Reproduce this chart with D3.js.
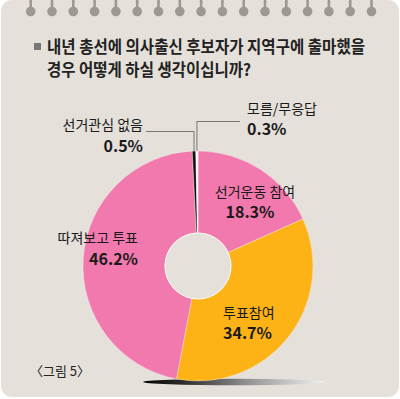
<!DOCTYPE html>
<html>
<head>
<meta charset="utf-8">
<script src="https://cdn.jsdelivr.net/npm/d3@7"></script>
<style>
  html, body { margin: 0; padding: 0; background: #fff; }
  svg { display: block; font-family: "Noto Sans CJK KR", "Noto Sans", sans-serif; }
</style>
</head>
<body>
<svg id="chart" width="400" height="399"></svg>
<script>
// survey answers, clockwise from 12 o'clock
var categories = ["선거운동 참여", "투표참여", "따져보고 투표", "선거관심 없음", "모름/무응답"];
var values = [18.3, 34.7, 46.2, 0.5, 0.3];
var valueLabels = ["18.3%", "34.7%", "46.2%", "0.5%", "0.3%"];
var titleLines = ["내년 총선에 의사출신 후보자가 지역구에 출마했을", "경우 어떻게 하실 생각이십니까?"];
var caption = "〈그림 5〉";

var colors = ["#f279ad", "#fdb316", "#f279ad", "#111111", "#ffffff"];

var svg = d3.select("#chart"),
    W = 400, H = 399,
    cx = 198, cy = 266,
    rOuter = 115, rInner = 33;

// card
svg.append("rect")
    .attr("x", 1).attr("y", 0)
    .attr("width", W - 2).attr("height", H - 2)
    .attr("rx", 11)
    .attr("fill", "#e5e0da");

// spiral binding pins
var pinX = d3.range(17).map(i => 30.7 + i * 21.3);
var pins = svg.append("g").attr("fill", "#9c9993").attr("stroke", "#9c9993");
pins.selectAll("line").data(pinX).enter().append("line")
    .attr("x1", d => d).attr("x2", d => d)
    .attr("y1", 0).attr("y2", 10)
    .attr("stroke-width", 2.6);
pins.selectAll("circle").data(pinX).enter().append("circle")
    .attr("cx", d => d).attr("cy", 11.5).attr("r", 4.8)
    .attr("stroke", "none");

// title
svg.append("rect")
    .attr("x", 34).attr("y", 43).attr("width", 7).attr("height", 7)
    .attr("fill", "#777");
svg.selectAll(".title").data(titleLines).enter().append("text")
    .attr("class", "title")
    .attr("x", 47)
    .attr("y", (d, i) => 53 + i * 23)
    .attr("font-size", 17)
    .attr("font-weight", "bold")
    .attr("fill", "#222")
    .attr("textLength", (d, i) => i === 0 ? 318 : 204)
    .attr("lengthAdjust", "spacingAndGlyphs")
    .text(d => d);

// shadow under the donut
var grad = svg.append("defs").append("linearGradient")
    .attr("id", "shadow").attr("x1", "0").attr("x2", "1").attr("y1", "0").attr("y2", "0");
grad.append("stop").attr("offset", "0").attr("stop-color", "#000");
grad.append("stop").attr("offset", "0.25").attr("stop-color", "#333");
grad.append("stop").attr("offset", "0.6").attr("stop-color", "#999");
grad.append("stop").attr("offset", "1").attr("stop-color", "#f2f2f2");
svg.append("ellipse")
    .attr("cx", 234).attr("cy", 382).attr("rx", 91).attr("ry", 3.2)
    .attr("fill", "url(#shadow)");

// donut
var pie = d3.pie().sort(null).value(d => d)(values);
var arc = d3.arc().innerRadius(rInner).outerRadius(rOuter);
var g = svg.append("g").attr("transform", `translate(${cx},${cy})`);
g.selectAll("path").data(pie).enter().append("path")
    .attr("d", arc)
    .attr("fill", (d, i) => colors[i])
    .attr("stroke", "#f4f0ec")
    .attr("stroke-width", 0.4);
g.append("circle")
    .attr("r", rInner)
    .attr("fill", "#e5e0da")
    .attr("stroke", "#fafafa")
    .attr("stroke-width", 1);

// labels: [x, y, anchor, gap] for name line, value line sits gap below
var labelPos = [
    [255, 197, "middle", 21],
    [223, 318, "start", 21],
    [138, 243, "end", 22],
    [143, 130, "end", 22],
    [247, 114, "start", 21]
];
var labels = svg.append("g").attr("fill", "#1a1a1a");
categories.forEach(function (c, i) {
    var p = labelPos[i];
    labels.append("text")
        .attr("x", p[0]).attr("y", p[1])
        .attr("text-anchor", p[2])
        .attr("font-size", 14)
        .text(c);
    labels.append("text")
        .attr("x", i === 0 ? p[0] - 5 : p[0]).attr("y", p[1] + p[3])
        .attr("text-anchor", p[2])
        .attr("font-size", 16)
        .attr("font-weight", "bold")
        .text(valueLabels[i]);
});

// leader lines for the two thin slices
var leaders = svg.append("g").attr("fill", "none").attr("stroke", "#777").attr("stroke-width", 1);
[3, 4].forEach(function (i) {
    var a = (pie[i].startAngle + pie[i].endAngle) / 2,
        x = cx + Math.sin(a) * rOuter,
        y0 = cy - Math.cos(a) * rOuter,
        yTop = i === 3 ? 131.5 : 121.5,
        xEnd = i === 3 ? 146 : 240;
    leaders.append("polyline")
        .attr("points", `${xEnd},${yTop} ${x},${yTop} ${x},${y0}`);
});

// caption
svg.append("text")
    .attr("x", 30).attr("y", 376)
    .attr("font-size", 13)
    .attr("fill", "#222")
    .text(caption);
</script>
</body>
</html>
